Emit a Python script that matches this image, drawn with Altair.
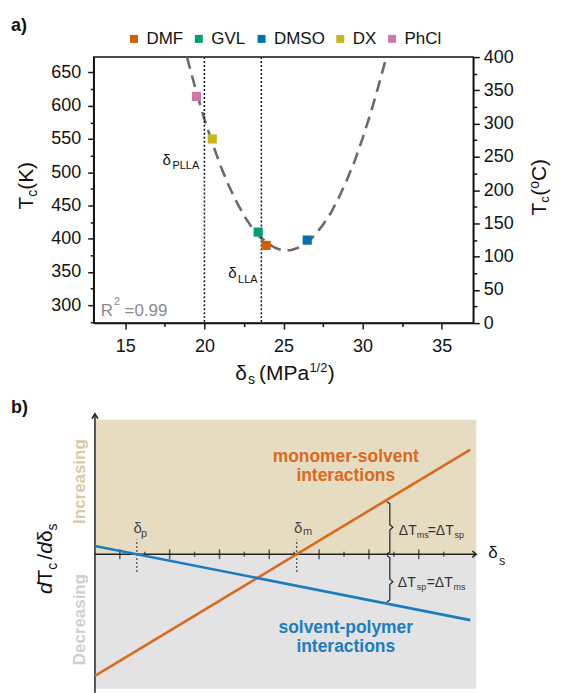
import altair as alt
import pandas as pd

FONT = "Liberation Sans"
INK = "#111111"
ORANGE = "#DA6A1E"
BLUE = "#1B7DC0"

# ---------------- panel a) values ----------------
solvents = ["DMF", "GVL", "DMSO", "DX", "PhCl"]
solvent_colors = ["#D55E00", "#009E73", "#0072B2", "#C9B81C", "#CC79A7"]
solvent_delta = [23.9, 23.4, 26.5, 20.5, 19.5]
solvent_tc_k = [390, 410, 398, 550, 614]

fit_delta = [18.9, 19.0, 19.5, 20.0, 20.5, 21.0, 21.5, 22.0, 22.5, 23.0, 23.5, 24.0, 24.5,
             25.0, 25.5, 26.0, 26.5, 27.0, 27.5, 28.0, 28.5, 29.0, 29.5, 30.0, 30.5, 31.0, 31.5]
fit_tc_k = [673, 664, 620, 580, 544, 511, 482, 457, 435, 417, 403, 393, 386,
            382, 383, 387, 394, 406, 421, 439, 462, 488, 517, 551, 588, 629, 673]

reference_delta = [20.0, 23.6]

k_ticks = [275, 300, 325, 350, 375, 400, 425, 450, 475, 500, 525, 550, 575, 600, 625, 650]
c_ticks = [0, 25, 50, 75, 100, 125, 150, 175, 200, 225, 250, 275, 300, 325, 350, 375, 400]
delta_ticks = [15, 17.5, 20, 22.5, 25, 27.5, 30, 32.5, 35]

# ---------------- panel b) values ----------------
b_line_x = [0, 15.07]
monomer_y = [-0.904, 0.778]
polymer_y = [0.061, -0.49]
band_names = ["Increasing", "Decreasing"]
band_low = [0, -1]
band_high = [1, 0]
band_fill = ["#E6DCC1", "#E3E3E3"]
band_text = ["#D6CBA8", "#CFCFCF"]
major_b = [1, 3, 5, 7, 9, 11, 13]
minor_b = [2, 4, 6, 8, 10, 12, 14]
delta_p = 1.68
delta_m = 8.1
brace_x = [11.72, 11.84, 11.84, 11.96, 11.84, 11.84, 11.72]
brace_upper_y = [0.39, 0.375, 0.22, 0.2, 0.18, 0.015, 0.003]
brace_lower_y = [-0.01, -0.025, -0.185, -0.205, -0.225, -0.34, -0.355]

ONE = pd.DataFrame({"k": [0]})

xa = alt.Scale(domain=[13, 37], nice=False, zero=False)
ya = alt.Scale(domain=[273.15, 673.15], nice=False, zero=False)
yc = alt.Scale(domain=[0, 400], nice=False, zero=False)
xb = alt.Scale(domain=[-0.05, 15.31], nice=False, zero=False)
yb = alt.Scale(domain=[-1.03, 1.044], nice=False, zero=False)


def axis(values, major, orient, pad):
    test = f"datum.value % {major} === 0"
    return alt.Axis(values=values, orient=orient, title=None, grid=False,
                    labelExpr=f"{test} ? datum.label : ''",
                    tickSize={"condition": {"test": test, "value": 6}, "value": 3.5},
                    tickWidth=1.5, tickColor=INK, domainColor=INK, domainWidth=1.5,
                    labelFont=FONT, labelFontSize=18, labelColor=INK, labelPadding=pad,
                    labelFlush=False, labelOverlap=False)


AX_X = axis(delta_ticks, 5, "bottom", 8)
AX_K = axis(k_ticks, 50, "left", 7)
AX_C = axis(c_ticks, 50, "right", 4)


def text_px(txt, x, y, size, color=INK, weight="normal", style="normal", angle=0, align="left"):
    return alt.Chart(ONE).mark_text(text=txt, font=FONT, fontSize=size, color=color,
                                    fontWeight=weight, fontStyle=style, angle=angle,
                                    align=align, baseline="alphabetic").encode(
        x=alt.value(x), y=alt.value(y))


def text_data(txt, x, y, xs, ys, xax, yax, size, color=INK, weight="normal", angle=0,
              align="left", line_height=0):
    kw = {}
    if line_height:
        kw["lineHeight"] = line_height
    return alt.Chart(ONE).mark_text(text=txt, font=FONT, fontSize=size, color=color,
                                    fontWeight=weight, angle=angle, align=align,
                                    baseline="alphabetic", **kw).encode(
        x=alt.XDatum(x, scale=xs, axis=xax), y=alt.YDatum(y, scale=ys, axis=yax))


def ta(txt, x, y, size, **kw):
    return text_data(txt, x, y, xa, ya, AX_X, AX_K, size, **kw)


def tb(txt, x, y, size, **kw):
    return text_data(txt, x, y, xb, yb, None, None, size, **kw)


# ================= panel a =================
curve = alt.Chart(pd.DataFrame({"delta": fit_delta, "tc": fit_tc_k})).mark_line(
    color="#6A6A6A", strokeWidth=2.6, strokeDash=[12, 7]).encode(
    x=alt.X("delta:Q", scale=xa, axis=AX_X),
    y=alt.Y("tc:Q", scale=ya, axis=AX_K))

refs = alt.Chart(pd.DataFrame({"delta": reference_delta})).mark_rule(
    color=INK, strokeWidth=1.5, strokeDash=[2, 2]).encode(
    x=alt.X("delta:Q", scale=xa, axis=AX_X))

squares = alt.Chart(pd.DataFrame({"solvent": solvents, "delta": solvent_delta, "tc": solvent_tc_k})).mark_square(
    size=85, opacity=1).encode(
    x=alt.X("delta:Q", scale=xa, axis=AX_X),
    y=alt.Y("tc:Q", scale=ya, axis=AX_K),
    color=alt.Color("solvent:N", scale=alt.Scale(domain=solvents, range=solvent_colors),
                    legend=alt.Legend(orient="none", legendX=32, legendY=-27, direction="horizontal",
                                      title=None, symbolType="square", symbolSize=64,
                                      symbolStrokeWidth=0, labelFont=FONT, labelFontSize=17,
                                      labelColor=INK, labelOffset=4, columnPadding=7, padding=0)))

texts_a = [
    ta("δ", 17.35, 511.3, 15),
    ta("PLLA", 17.98, 504.6, 11),
    ta("δ", 21.5, 340.6, 15),
    ta("LLA", 22.13, 333.1, 11),
    ta("R", 13.44, 283.6, 17, color="#8A8A8A"),
    ta("2", 14.29, 300.1, 11, color="#8A8A8A"),
    ta("=0.99", 14.95, 283.6, 17, color="#8A8A8A"),
    text_px("a)", -83, -26, 18, weight="bold"),
    # left title T_c(K)
    text_px("T", -61, 153, 21, angle=270),
    text_px("c", -57, 140.2, 14, angle=270),
    text_px("(K)", -61, 133.2, 21, angle=270),
    # right title T_c(oC)
    text_px("T", 454, 159, 21, angle=270),
    text_px("c", 456.5, 146.2, 13, angle=270),
    text_px("(", 454, 139.2, 21, angle=270),
    text_px("o", 447, 132.2, 14, angle=270),
    text_px("C", 454, 124.4, 21, angle=270),
    text_px(")", 454, 109.2, 21, angle=270),
    # x title delta_s (MPa^1/2)
    text_px("δ", 142, 324, 21),
    text_px("s", 155, 328, 14),
    text_px("(MPa", 166, 324, 21),
    text_px("1/2", 216.5, 316, 13),
    text_px(")", 235, 324, 21),
]

celsius = alt.Chart(pd.DataFrame({"c": c_ticks})).mark_point(opacity=0).encode(
    y=alt.Y("c:Q", scale=yc, axis=AX_C))

inner_a = alt.layer(curve, refs, squares, *texts_a)
top = alt.layer(inner_a, celsius).resolve_scale(y="independent").properties(
    width=381, height=267, view=alt.ViewBackground(stroke=INK, strokeWidth=1.5))

# ================= panel b =================
bands = [
    alt.Chart(pd.DataFrame({"lo": [band_low[i]], "hi": [band_high[i]]})).mark_rect(color=band_fill[i]).encode(
        x=alt.XDatum(0, scale=xb, axis=None), x2=alt.X2Datum(15.31),
        y=alt.Y("lo:Q", scale=yb, axis=None), y2="hi:Q")
    for i in range(2)
]

axis_x_rule = alt.Chart(ONE).mark_rule(color="#222222", strokeWidth=1.5).encode(
    x=alt.XDatum(0, scale=xb, axis=None), x2=alt.X2Datum(15.31),
    y=alt.YDatum(0, scale=yb, axis=None))
axis_y_rule = alt.Chart(ONE).mark_rule(color="#222222", strokeWidth=1.5).encode(
    x=alt.XDatum(0, scale=xb, axis=None),
    y=alt.YDatum(-1.03, scale=yb, axis=None), y2=alt.Y2Datum(1.044))

ticks_major = alt.Chart(pd.DataFrame({"t": major_b})).mark_tick(
    orient="vertical", size=10, thickness=1.5, color="#222222").encode(
    x=alt.X("t:Q", scale=xb, axis=None), y=alt.YDatum(0, scale=yb, axis=None))
ticks_minor = alt.Chart(pd.DataFrame({"t": minor_b})).mark_tick(
    orient="vertical", size=5, thickness=1.5, color="#222222").encode(
    x=alt.X("t:Q", scale=xb, axis=None), y=alt.YDatum(0, scale=yb, axis=None))

dotted = alt.Chart(pd.DataFrame({"d": [delta_p, delta_m]})).mark_rule(
    color="#555555", strokeWidth=1.3, strokeDash=[2, 2]).encode(
    x=alt.X("d:Q", scale=xb, axis=None),
    y=alt.YDatum(-0.132, scale=yb, axis=None), y2=alt.Y2Datum(0.11))

monomer = alt.Chart(pd.DataFrame({"x": b_line_x, "y": monomer_y})).mark_line(
    color=ORANGE, strokeWidth=2.6).encode(
    x=alt.X("x:Q", scale=xb, axis=None), y=alt.Y("y:Q", scale=yb, axis=None))
polymer = alt.Chart(pd.DataFrame({"x": b_line_x, "y": polymer_y})).mark_line(
    color=BLUE, strokeWidth=2.6).encode(
    x=alt.X("x:Q", scale=xb, axis=None), y=alt.Y("y:Q", scale=yb, axis=None))

brace_df = pd.DataFrame({
    "x": brace_x + brace_x,
    "y": brace_upper_y + brace_lower_y,
    "which": ["upper"] * 7 + ["lower"] * 7,
    "i": list(range(7)) * 2,
})
braces = alt.Chart(brace_df).mark_line(color="#222222", strokeWidth=1.2).encode(
    x=alt.X("x:Q", scale=xb, axis=None), y=alt.Y("y:Q", scale=yb, axis=None),
    detail="which:N", order="i:Q")

arrow_x = alt.Chart(ONE).mark_point(shape="M -1 -0.8 L 0 0 L -1 0.8", filled=False, size=64,
                                    strokeWidth=1.5, color="#222222", opacity=1).encode(
    x=alt.XDatum(15.31, scale=xb, axis=None), y=alt.YDatum(0, scale=yb, axis=None))
arrow_y = alt.Chart(ONE).mark_point(shape="M -0.6 1 L 0 0 L 0.6 1", filled=False, size=100,
                                    strokeWidth=1.5, color="#222222", opacity=1).encode(
    x=alt.XDatum(0, scale=xb, axis=None), y=alt.YDatum(1.044, scale=yb, axis=None))

texts_b = [
    tb(["monomer-solvent", "interactions"], 10.07, 0.688, 17.5, color=ORANGE,
       weight="bold", align="center", line_height=19),
    tb(["solvent-polymer", "interactions"], 10.07, -0.586, 17.5, color=BLUE,
       weight="bold", align="center", line_height=19),
    tb("δ", 1.55, 0.158, 15, color="#444444"),
    tb("p", 1.85, 0.125, 11, color="#444444"),
    tb("δ", 7.99, 0.158, 15, color="#444444"),
    tb("m", 8.35, 0.14, 11, color="#444444"),
    tb("ΔT", 12.2, 0.14, 14, color="#333333"),
    tb("ms", 12.92, 0.118, 9, color="#333333"),
    tb("=ΔT", 13.36, 0.14, 14, color="#333333"),
    tb("sp", 14.44, 0.118, 9, color="#333333"),
    tb("ΔT", 12.16, -0.243, 14, color="#333333"),
    tb("sp", 12.92, -0.267, 9, color="#333333"),
    tb("=ΔT", 13.32, -0.243, 14, color="#333333"),
    tb("ms", 14.4, -0.267, 9, color="#333333"),
    tb("δ", 15.79, -0.03, 17),
    tb("s", 16.23, -0.082, 12),
    tb(band_names[0], -0.41, 0.54, 17, color=band_text[0], weight="bold",
       angle=270, align="center"),
    tb(band_names[1], -0.41, -0.486, 17, color=band_text[1], weight="bold",
       angle=270, align="center"),
    text_px("b)", -83, -1, 18, weight="bold"),
    # y title dT_c/dδ_s
    text_px("d", -42, 181, 21, style="italic", angle=270),
    text_px("T", -42, 169.3, 21, angle=270),
    text_px("c", -37, 156.5, 14, angle=270),
    text_px("/", -42, 146.5, 21, angle=270),
    text_px("d", -42, 140.5, 21, style="italic", angle=270),
    text_px("δ", -42, 128.8, 21, angle=270),
    text_px("s", -37, 117.1, 14, angle=270),
]

bottom = alt.layer(*bands, axis_x_rule, axis_y_rule, ticks_major, ticks_minor, dotted,
                   monomer, polymer, braces, arrow_x, arrow_y, *texts_b).properties(
    width=384, height=280)

chart = alt.vconcat(top, bottom, spacing=91, bounds="flush").properties(
    padding={"left": 2, "top": 7, "right": 0, "bottom": 0}
).configure(font=FONT).configure_view(stroke="transparent")

chart.save("out.html", embed_options={"renderer": "svg", "actions": False})
